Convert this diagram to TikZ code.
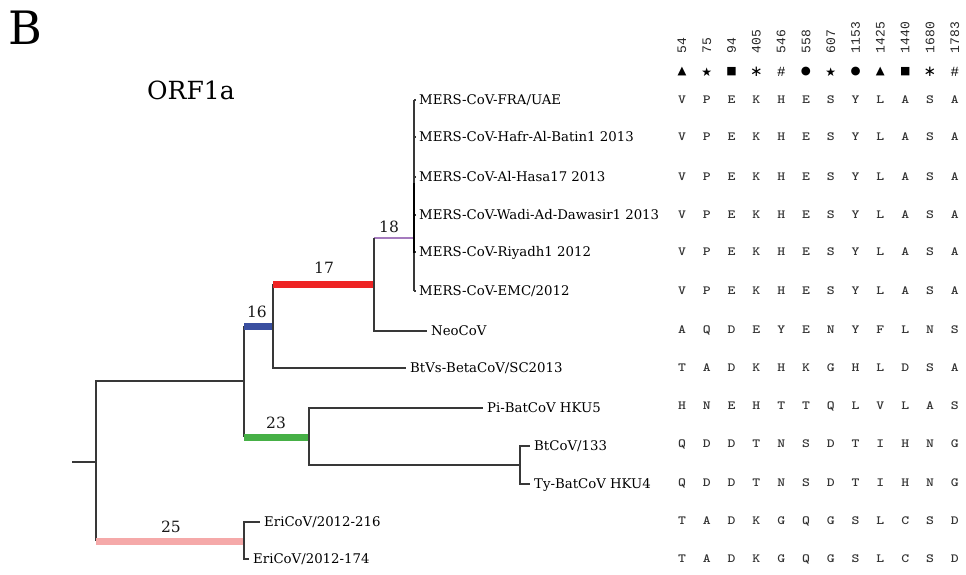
\documentclass[tikz,border=0pt]{standalone}
\usepackage{fontspec}
\setmainfont{DejaVu Serif}
\newfontfamily\symfont{DejaVu Sans}
\newfontfamily\libmono{Liberation Mono}
\definecolor{treeline}{HTML}{383838}
\definecolor{barblue}{HTML}{3A4FA0}
\definecolor{barred}{HTML}{EE2424}
\definecolor{bargreen}{HTML}{46B046}
\definecolor{barpink}{HTML}{F5A9A9}
\definecolor{barpurple}{HTML}{A57BBE}
\begin{document}
\begin{tikzpicture}[x=1pt,y=-1pt,
  br/.style={draw=treeline, line width=1.3pt},
  cbar/.style={line width=7pt},
  leaf/.style={anchor=west, inner xsep=4pt, inner ysep=0pt, text height=9.7pt, text depth=0pt,
    font=\fontsize{13.3}{14}\selectfont, text=black},
  blab/.style={inner sep=0pt, text height=11.3pt, text depth=0pt, font=\fontsize{15.5}{16}\selectfont, text=black!90},
  res/.style={inner sep=0pt, text height=7.6pt, text depth=0pt, font=\ttfamily\bfseries\fontsize{12.5}{12.5}\selectfont, text=black!80},
  posn/.style={inner sep=0pt, rotate=90, anchor=west, font=\libmono\fontsize{13}{13}\selectfont, text=black!85},
  symb/.style={inner sep=0pt, anchor=center, text=black}]
\useasboundingbox (0,0) rectangle (966,575);
% titles
\node[anchor=base west, inner sep=0pt, font=\fontsize{46}{46}\selectfont] (panel) at (8,45) {B};
\node[anchor=base west, inner sep=0pt, font=\fontsize{25}{25}\selectfont] (gene) at (147,100) {ORF1a};
% internal nodes
\coordinate (R0) at (72,462);
\coordinate (R) at (96,462);
\coordinate (A) at (244,381);
\coordinate (E) at (244,541);
\coordinate (B) at (273,326);
\coordinate (C) at (374,284);
\coordinate (D) at (414,238);
\coordinate (G) at (309,437);
\coordinate (H) at (520,465);
% leaves
\node[leaf, inner xsep=4.5pt] (m1) at (414.5,100) {MERS-CoV-FRA/UAE};
\node[leaf, inner xsep=4.5pt] (m2) at (414.5,137) {MERS-CoV-Hafr-Al-Batin1 2013};
\node[leaf, inner xsep=4.5pt] (m3) at (414.5,177) {MERS-CoV-Al-Hasa17 2013};
\node[leaf, inner xsep=4.5pt] (m4) at (414.5,215) {MERS-CoV-Wadi-Ad-Dawasir1 2013};
\node[leaf, inner xsep=4.5pt] (m5) at (414.5,252) {MERS-CoV-Riyadh1 2012};
\node[leaf, inner xsep=4.5pt] (m6) at (414.5,291) {MERS-CoV-EMC/2012};
\node[leaf] (neo) at (427,331) {NeoCoV};
\node[leaf] (btvs) at (406,368) {BtVs-BetaCoV/SC2013};
\node[leaf] (pi) at (483,408) {Pi-BatCoV HKU5};
\node[leaf] (bt133) at (530,446) {BtCoV/133};
\node[leaf] (ty) at (530,484) {Ty-BatCoV HKU4};
\node[leaf] (eri216) at (260,522) {EriCoV/2012-216};
\node[leaf] (eri174) at (249,559) {EriCoV/2012-174};
% tree edges
\draw[br] (R0) -- (R);
\draw[br] (R) |- (A);
\draw[br] (R) -- (R |- E);
\draw[cbar, barpink] (R |- E) -- (E);
\draw[br] (E) |- (eri216.west);
\draw[br] (E) |- (eri174.west);
\draw[br] (A) -- (A |- B);
\draw[cbar, barblue] (A |- B) -- (B);
\draw[br] (A) -- (A |- G);
\draw[cbar, bargreen] (A |- G) -- (G);
\draw[br] (B) -- (B |- C);
\draw[cbar, barred] (B |- C) -- (C);
\draw[br] (B) |- (btvs.west);
\draw[br] (C) |- (neo.west);
\draw[line width=1.3pt, barpurple] (C |- D) -- (D);
\draw[br] (C) -- (C |- D);
\draw[br] (D) -- (D |- m1.west);
\draw[br] (D) -- (D |- m6.west);
\foreach \m in {m1,m2,m3,m4,m5,m6} \draw[br] (D |- \m.west) -- ++(2,0);
\draw[draw=black, line width=2.6pt] (414,183) -- (414,253);
\draw[br] (G) |- (pi.west);
\draw[br] (G) |- (H);
\draw[br] (H) |- (bt133.west);
\draw[br] (H) |- (ty.west);
% branch labels
\node[blab] (l16) at (257,312) {16};
\node[blab] (l17) at (324,268) {17};
\node[blab] (l18) at (389,227) {18};
\node[blab] (l23) at (276,423) {23};
\node[blab] (l25) at (171,527) {25};
% positions header
\foreach \p [count=\i] in {54,75,94,405,546,558,607,1153,1425,1440,1680,1783}
  \node[posn] (pos\i) at ({657.2+24.8*\i},53.5) {\p};
\foreach \s/\f/\ff [count=\i] in {▲/11.5/\symfont,★/12/\symfont,■/11/\symfont,∗/15/\symfont,\#/14/\libmono,●/11.5/\symfont,★/12/\symfont,●/11.5/\symfont,▲/11.5/\symfont,■/11/\symfont,∗/15/\symfont,\#/14/\libmono}
  \node[symb, font=\ff\fontsize{\f}{\f}\selectfont] (sym\i) at ({657.2+24.8*\i},72) {\s};
% residues
\foreach \yy/\row [count=\r] in {
  100/{V,P,E,K,H,E,S,Y,L,A,S,A},
  137/{V,P,E,K,H,E,S,Y,L,A,S,A},
  177/{V,P,E,K,H,E,S,Y,L,A,S,A},
  215/{V,P,E,K,H,E,S,Y,L,A,S,A},
  252/{V,P,E,K,H,E,S,Y,L,A,S,A},
  291/{V,P,E,K,H,E,S,Y,L,A,S,A},
  330/{A,Q,D,E,Y,E,N,Y,F,L,N,S},
  368/{T,A,D,K,H,K,G,H,L,D,S,A},
  406/{H,N,E,H,T,T,Q,L,V,L,A,S},
  444/{Q,D,D,T,N,S,D,T,I,H,N,G},
  483/{Q,D,D,T,N,S,D,T,I,H,N,G},
  521/{T,A,D,K,G,Q,G,S,L,C,S,D},
  559/{T,A,D,K,G,Q,G,S,L,C,S,D}}
  \foreach \c [count=\i] in \row
    \node[res] (res\r-\i) at ({657.2+24.8*\i},\yy) {\scalebox{1.2}[1]{\c}};
\end{tikzpicture}
\end{document}
